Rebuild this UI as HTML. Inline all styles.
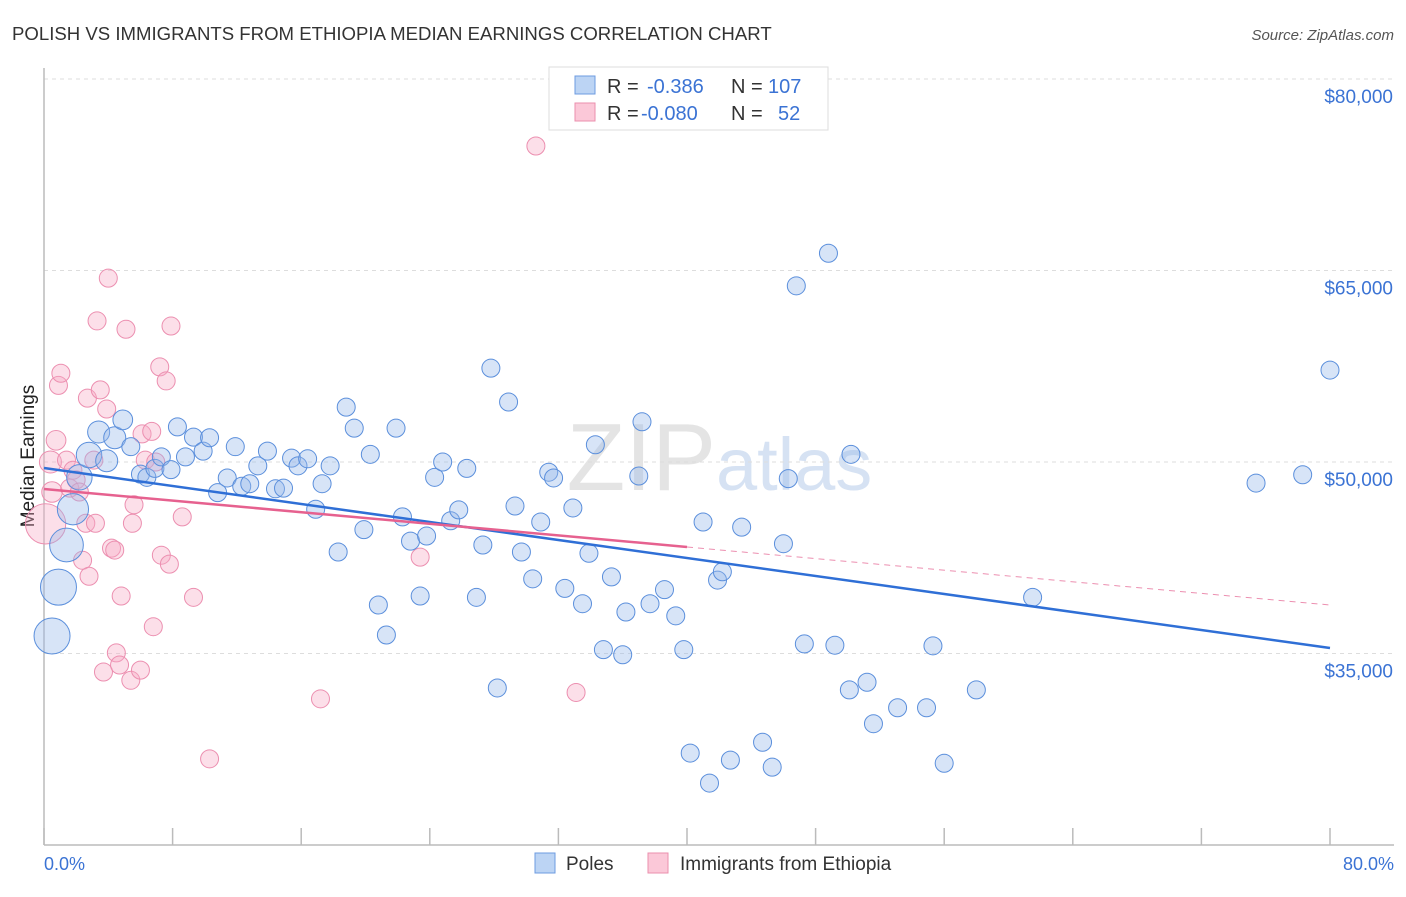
<!DOCTYPE html>
<html><head><meta charset="utf-8"><style>
body{margin:0;background:#fff;font-family:"Liberation Sans",sans-serif}
svg text{font-family:"Liberation Sans",sans-serif}
</style></head><body>
<svg id="c" width="1406" height="892" xmlns="http://www.w3.org/2000/svg">
<text x="12" y="40" font-size="18.6" fill="#333">POLISH VS IMMIGRANTS FROM ETHIOPIA MEDIAN EARNINGS CORRELATION CHART</text>
<text x="1394" y="40" font-size="15" fill="#555" font-style="italic" text-anchor="end">Source: ZipAtlas.com</text>
<text x="716" y="490" font-size="96" fill="#e4e4e4" text-anchor="end" font-family="Liberation Serif">ZIP</text>
<text x="716" y="490" font-size="74" fill="#d6e2f3">atlas</text>
<g id="grid"></g>
<line x1="44" y1="68" x2="44" y2="845" stroke="#bbb" stroke-width="1.5"/>
<line x1="44" y1="845" x2="1394" y2="845" stroke="#bbb" stroke-width="1.5"/>
<text transform="translate(34,456) rotate(-90)" font-size="19" fill="#222" text-anchor="middle">Median Earnings</text>
<text x="44" y="870" font-size="18" fill="#3b73d4">0.0%</text>
<text x="1394" y="870" font-size="18" fill="#3b73d4" text-anchor="end">80.0%</text>
<g id="pts"></g>
<g id="lines"></g>
<g>
<rect x="549" y="67" width="279" height="63" fill="#fff" stroke="#ddd"/>
<rect x="575" y="76" width="20" height="18" fill="#bcd4f4" stroke="#6d9be0"/>
<rect x="575" y="103" width="20" height="18" fill="#fbc8d8" stroke="#eb8fae"/>
<text x="607" y="93" font-size="20" fill="#333">R =</text>
<text x="647" y="93" font-size="20" fill="#3b73d4">-0.386</text>
<text x="731" y="93" font-size="20" fill="#333">N =</text>
<text x="768" y="93" font-size="20" fill="#3b73d4">107</text>
<text x="607" y="120" font-size="20" fill="#333">R =</text>
<text x="641" y="120" font-size="20" fill="#3b73d4">-0.080</text>
<text x="731" y="120" font-size="20" fill="#333">N =</text>
<text x="778" y="120" font-size="20" fill="#3b73d4">52</text>
</g>
<g>
<rect x="535" y="853" width="20" height="20" fill="#bcd4f4" stroke="#6d9be0"/>
<text x="566" y="870" font-size="19" fill="#333">Poles</text>
<rect x="648" y="853" width="20" height="20" fill="#fbc8d8" stroke="#eb8fae"/>
<text x="680" y="870" font-size="19" fill="#333">Immigrants from Ethiopia</text>
</g>
</svg>
<script>
const yTicks=[35000,50000,65000,80000];
const yTickLabels=["$35,000","$50,000","$65,000","$80,000"];
const xTicks=[0,8,16,24,32,40,48,56,64,72,80];
const polesX=[0.5,0.9,1.4,1.8,2.2,2.8,3.4,3.9,4.4,4.9,5.4,6.0,6.4,6.9,7.3,7.9,8.3,8.8,9.3,9.9,10.3,10.8,11.4,11.9,12.3,12.8,13.3,13.9,14.4,14.9,15.4,15.8,16.4,16.9,17.3,17.8,18.3,18.8,19.3,19.9,20.3,20.8,21.3,21.9,22.3,22.8,23.4,23.8,24.3,24.8,25.3,25.8,26.3,26.9,27.3,27.8,28.2,28.9,29.3,29.7,30.4,30.9,31.4,31.7,32.4,32.9,33.5,33.9,34.3,34.8,35.3,36.0,36.2,37.0,37.2,37.7,38.6,39.3,39.8,40.2,41.0,41.4,41.9,42.2,42.7,43.4,44.7,45.3,46.0,46.3,46.8,47.3,48.8,49.2,50.1,50.2,51.2,51.6,53.1,54.9,55.3,56.0,58.0,61.5,75.4,78.3,80.0];
const polesY=[36370,40200,43500,46300,48800,50550,52350,50100,51900,53300,51200,49050,48800,49500,50400,49400,52750,50400,51950,50850,51900,47600,48750,51200,48100,48300,49700,50850,47900,47950,50300,49700,50250,46300,48300,49700,42950,54300,52650,44700,50600,38800,36450,52650,45700,43800,39500,44200,48800,50000,45400,46250,49500,39400,43500,57350,32300,54700,46550,42950,40850,45300,49200,48750,40100,46400,38900,42850,51350,35300,41000,34900,38250,48900,53150,38900,40000,37950,35300,27200,45300,24850,40750,41400,26650,44900,28050,26100,43600,48700,63800,35750,66350,35650,32150,50600,32750,29500,30750,30750,35600,26400,32150,39400,48350,49000,57200];
const polesW=[4,4,3.5,3,2,2,1.5,1.5,1.5,1.2];
const ethX=[0.1,0.5,0.75,0.4,0.9,1.05,1.4,1.6,1.8,2.0,2.2,2.4,2.6,2.7,2.8,3.1,3.2,3.3,3.5,3.7,3.9,4.0,4.2,4.4,4.5,4.7,4.8,5.1,5.4,5.5,5.6,6.0,6.1,6.3,6.7,6.8,6.95,7.3,7.2,7.6,7.8,7.9,8.6,9.3,10.3,17.2,23.4,30.6,33.1];
const ethY=[45150,47650,51700,50000,56000,56950,50150,47950,49350,48600,47650,42300,45200,55000,41050,50150,45200,61050,55650,33550,54150,64400,43250,43100,35050,34100,39500,60400,32900,45200,46650,33700,52200,50150,52400,37100,50000,42700,57450,56350,42000,60650,45700,39400,26750,31450,42550,74750,31950];
const ethW=[5,1.3,1.2,1.5];
const polesFit=[49530,35430];
const ethFit=[47885,38800];
const ethSolidEnd=40;
const ns="http://www.w3.org/2000/svg";
const X=p=>44+p*16.075, Y=v=>462-(v-50000)*191.5/15000;
const grid=document.getElementById('grid');
yTicks.forEach((v,i)=>{
 const l=document.createElementNS(ns,'line');
 
 
 l.setAttribute('x1',44);l.setAttribute('x2',1394);l.setAttribute('y1',Y(v));l.setAttribute('y2',Y(v));
 l.setAttribute('stroke','#ddd');l.setAttribute('stroke-dasharray','4,4');grid.appendChild(l);
 const t=document.createElementNS(ns,'text');
 
 
 t.setAttribute('x',1393);t.setAttribute('y',Y(v)+24);t.setAttribute('text-anchor','end');
 t.setAttribute('font-size','19');t.setAttribute('fill','#3b73d4');t.textContent=yTickLabels[i];grid.appendChild(t);
});
const topLine=document.createElementNS(ns,'line');


topLine.setAttribute('x1',44);topLine.setAttribute('x2',1394);topLine.setAttribute('y1',79);topLine.setAttribute('y2',79);topLine.setAttribute('stroke','#ddd');topLine.setAttribute('stroke-dasharray','4,4');grid.appendChild(topLine);
xTicks.forEach(p=>{
 const l=document.createElementNS(ns,'line');
 
 
 l.setAttribute('x1',X(p));l.setAttribute('x2',X(p));l.setAttribute('y1',828);l.setAttribute('y2',845);
 l.setAttribute('stroke','#bbb');l.setAttribute('stroke-width','1.5');grid.appendChild(l);
});
const pts=document.getElementById('pts');
function dot(x,y,r,fill,stroke,name){
 const c=document.createElementNS(ns,'circle');
 
 
 c.setAttribute('cx',X(x));c.setAttribute('cy',Y(y));c.setAttribute('r',r);
 c.setAttribute('fill',fill);c.setAttribute('stroke',stroke);c.setAttribute('stroke-width','1');pts.appendChild(c);
}
ethX.forEach((x,i)=>dot(x,ethY[i],9*(ethW[i]?Math.sqrt(ethW[i]):1),'rgba(246,170,196,0.38)','#ec8fb0','ethiopia-point'));
polesX.forEach((x,i)=>dot(x,polesY[i],9*(polesW[i]?Math.sqrt(polesW[i]):1),'rgba(150,185,235,0.38)','#5b8fdc','poles-point'));
const lines=document.getElementById('lines');
function ln(p1,v1,p2,v2,col,w,dash,name){
 const l=document.createElementNS(ns,'line');
 
 
 l.setAttribute('x1',X(p1));l.setAttribute('y1',Y(v1));l.setAttribute('x2',X(p2));l.setAttribute('y2',Y(v2));
 l.setAttribute('stroke',col);l.setAttribute('stroke-width',w);if(dash)l.setAttribute('stroke-dasharray',dash);lines.appendChild(l);
}
const em=ethFit[0]+(ethFit[1]-ethFit[0])*ethSolidEnd/80;
ln(ethSolidEnd,em,80,ethFit[1],'#ec8fb0',1,'6,5','ethiopia-trend-dashed');
ln(0,polesFit[0],80,polesFit[1],'#2f6fd6',2.5,null,'poles-trend-line');
ln(0,ethFit[0],ethSolidEnd,em,'#e6618f',2.5,null,'ethiopia-trend-line');
</script>
</body></html>
